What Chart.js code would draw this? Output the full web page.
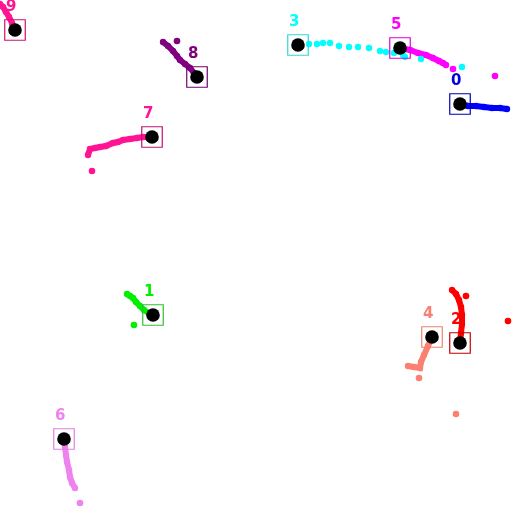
<!DOCTYPE html>
<html><head><meta charset="utf-8">
<script src="https://cdn.jsdelivr.net/npm/chart.js@4"></script>
<style>html,body{margin:0;padding:0;background:#fff}canvas{display:block}</style>
</head><body>
<canvas id="c" width="512" height="512"></canvas>
<script>
// Track ids and current positions (image pixel coordinates)
const trackIds = ['0','1','2','3','4','5','6','7','8','9'];
const currentX = [460, 153, 460, 298, 432, 400, 64, 152, 197, 15];
const currentY = [104, 315, 343, 45, 337, 48, 439, 137, 77, 30];
const trailColors = ['#0000ff','#00f000','#ff0000','#00ffff','#fa8072','#ff00ff','#ee82ee','#ff1493','#800080','#ff1493'];
const boxColors = ['#0000b0','#30c030','#c00000','#30d8d8','#f08070','#e000e0','#e080e0','#c01070','#700070','#d01070'];

// Trails (continuous paths) as [x,y] pairs
const trail0 = [[460,104],[468,106],[476,106],[484,107],[492,108],[500,108],[507,109]];
const trail1 = [[127,294],[130,296],[133,298],[136,302],[140,306],[144,310],[149,313],[153,315]];
const trail2 = [[452,290],[456,294],[459,300],[461,307],[462,315],[462,324],[461,333],[460,343]];
const trail3 = [[309,44],[317,44],[323,43],[330,43],[339,46],[349,47],[358,47],[369,48],[380,51],[386,52],[394,53],[403,55],[405,57],[421,59],[462,67]];
const trail4 = [[432,337],[428,346],[424,355],[421,362],[420,368],[414,367],[408,366]];
const trail5 = [[400,48],[410,50],[418,53],[426,55],[433,58],[439,61],[443,63],[446,65]];
const trail6 = [[64,439],[65,447],[66,455],[67,462],[69,470],[70,477],[72,483],[75,488]];
const trail7 = [[88,155],[90,149],[95,148],[100,147],[106,146],[113,143],[118,142],[123,140],[130,139],[137,138],[143,137],[148,137],[152,137]];
const trail8 = [[163,42],[168,46],[173,51],[177,56],[180,60],[185,64],[190,68],[194,73],[197,77]];
const trail9 = [[0,4],[3,7],[6,12],[9,17],[12,23],[15,30]];
// Stray detections
const stray0 = [];
const stray1 = [[134,325]];
const stray2 = [[466,296],[508,321]];
const stray3 = [];
const stray4 = [[419,378],[456,414]];
const stray5 = [[453,69],[495,76]];
const stray6 = [[80,503]];
const stray7 = [[92,171]];
const stray8 = [[177,41]];
const stray9 = [];

const trails = [trail0,trail1,trail2,trail3,trail4,trail5,trail6,trail7,trail8,trail9];
const strays = [stray0,stray1,stray2,stray3,stray4,stray5,stray6,stray7,stray8,stray9];
const dottedTrail = [false,false,false,true,false,false,false,false,false,false];

const toPts = a => a.map(p => ({x:p[0], y:p[1]}));
const datasets = [];
trails.forEach((t,i) => {
  datasets.push({
    data: toPts(t), showLine: !dottedTrail[i], borderColor: trailColors[i], backgroundColor: trailColors[i],
    borderWidth: 6, pointRadius: 3.2, pointBorderWidth: 0, clip: false, order: 5
  });
});
strays.forEach((s,i) => {
  if (!s.length) return;
  datasets.push({
    data: toPts(s), showLine: false, backgroundColor: trailColors[i], borderColor: trailColors[i],
    pointRadius: 3.3, pointBorderWidth: 0, clip: false, order: 5
  });
});
// boxes around current positions
datasets.push({
  data: currentX.map((x,i)=>({x, y: currentY[i]})), showLine:false,
  pointStyle: 'rect', pointRadius: 14.5, pointBorderWidth: 1.2,
  pointBorderColor: boxColors, pointBackgroundColor: 'rgba(0,0,0,0)', clip:false, order: 2
});
// current position dots
datasets.push({
  data: currentX.map((x,i)=>({x, y: currentY[i]})), showLine:false,
  pointRadius: 6.8, pointBorderWidth: 0, pointBackgroundColor: '#000', clip:false, order: 1
});

const labelPlugin = {
  id: 'trackLabels',
  afterDatasetsDraw(chart) {
    const ctx = chart.ctx, xs = chart.scales.x, ys = chart.scales.y;
    ctx.save();
    ctx.font = 'bold 15px "DejaVu Sans"';
    ctx.textAlign = 'left';
    ctx.textBaseline = 'alphabetic';
    trackIds.forEach((id,i) => {
      const px = xs.getPixelForValue(currentX[i]);
      const py = ys.getPixelForValue(currentY[i]);
      ctx.fillStyle = trailColors[i] === '#0000ff' ? '#0000e0' : trailColors[i];
      ctx.fillText(id, px - 9, py - 19);
    });
    ctx.restore();
  }
};

new Chart(document.getElementById('c'), {
  type: 'scatter',
  data: { datasets },
  options: {
    responsive: false, animation: false,
    layout: { padding: 0, autoPadding: false },
    plugins: { legend: {display:false}, tooltip: {enabled:false} },
    scales: {
      x: { type:'linear', min:0, max:512, display:false },
      y: { type:'linear', min:0, max:512, reverse:true, display:false }
    }
  },
  plugins: [labelPlugin]
});
</script>
</body></html>
